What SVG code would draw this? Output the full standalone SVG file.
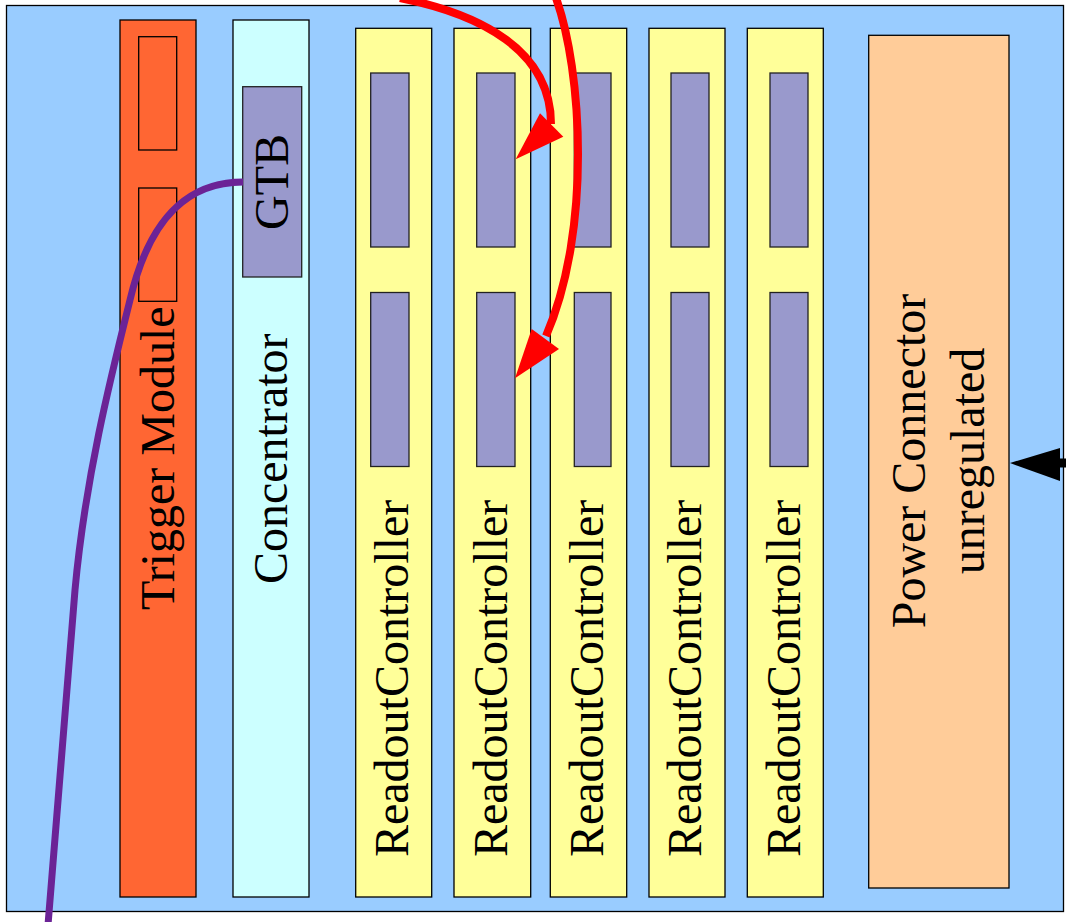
<svg xmlns="http://www.w3.org/2000/svg" width="1066" height="922" viewBox="0 0 1066 922">
<style>
.box{stroke:#000;stroke-width:1.3}
.lbl{font-family:"Liberation Serif","Times New Roman",serif;font-size:48px;fill:#000}
.chip{fill:#9999cc;stroke:#222;stroke-width:1.3}
.rc{fill:#ffff99}
.red{fill:none;stroke:#ff0000;stroke-width:8}
.redhead{fill:#ff0000}
</style>
<rect width="1066" height="922" fill="#ffffff"/>
<g id="board">
<rect class="box" x="6.5" y="5.5" width="1057" height="906" fill="#99ccff"/>
</g>
<g id="trigger">
<rect class="box" x="120" y="20" width="76" height="877" fill="#ff6633"/>
<rect class="box" x="138.7" y="36.7" width="38" height="113.3" fill="#ff6633"/>
<rect class="box" x="138.7" y="188" width="38" height="113.3" fill="#ff6633"/>
<text class="lbl" transform="translate(174,610) rotate(-90)">Trigger Module</text>
</g>
<g id="concentrator">
<rect class="box" x="233" y="20" width="76" height="877" fill="#ccffff"/>
<text class="lbl" transform="translate(287,584) rotate(-90)">Concentrator</text>
</g>
<g id="gtb">
<rect class="chip" x="242.7" y="86.7" width="59" height="190.3"/>
<text class="lbl" text-anchor="middle" transform="translate(288,182) rotate(-90)">GTB</text>
</g>
<g id="rc1">
<rect class="box rc" x="355.7" y="28.3" width="76" height="868.7"/>
<rect class="chip" x="370.7" y="73" width="38.3" height="174"/>
<rect class="chip" x="370.7" y="292.5" width="38.3" height="174"/>
<text class="lbl" transform="translate(408,857) rotate(-90)">ReadoutController</text>
</g>
<g id="rc2">
<rect class="box rc" x="454" y="28.3" width="76.7" height="868.7"/>
<rect class="chip" x="476.7" y="73" width="38.3" height="174"/>
<rect class="chip" x="476.7" y="292.5" width="38.3" height="174"/>
<text class="lbl" transform="translate(506.7,857) rotate(-90)">ReadoutController</text>
</g>
<g id="rc3">
<rect class="box rc" x="550.3" y="28.3" width="76.4" height="868.7"/>
<rect class="chip" x="574.3" y="73" width="36.7" height="174"/>
<rect class="chip" x="574.3" y="292.5" width="36.7" height="174"/>
<text class="lbl" transform="translate(603,857) rotate(-90)">ReadoutController</text>
</g>
<g id="rc4">
<rect class="box rc" x="649" y="28.3" width="76" height="868.7"/>
<rect class="chip" x="671" y="73" width="38" height="174"/>
<rect class="chip" x="671" y="292.5" width="38" height="174"/>
<text class="lbl" transform="translate(701.4,857) rotate(-90)">ReadoutController</text>
</g>
<g id="rc5">
<rect class="box rc" x="747.3" y="28.3" width="76" height="868.7"/>
<rect class="chip" x="770" y="73" width="38" height="174"/>
<rect class="chip" x="770" y="292.5" width="38" height="174"/>
<text class="lbl" transform="translate(799.7,857) rotate(-90)">ReadoutController</text>
</g>
<g id="power">
<rect class="box" x="868.7" y="35.3" width="140.3" height="852.7" fill="#ffcc99"/>
<text class="lbl" text-anchor="middle" transform="translate(925,461) rotate(-90)">Power Connector</text>
<text class="lbl" text-anchor="middle" transform="translate(984,461) rotate(-90)">unregulated</text>
</g>
<g id="connectors">
<path class="red" d="M400,-2 C480,14 551,50 551,124"/>
<polygon class="redhead" points="515.7,159.3 540,113.3 563.3,136.7"/>
<path class="red" d="M556,-2 C582,70 592,230 546,336"/>
<polygon class="redhead" points="515,378.3 531.7,329 559,349"/>
<path d="M243,182 C190,182 150,215 130,300 C110,380 85,480 75,590 L48,925" fill="none" stroke="#6b2396" stroke-width="7"/>
<line x1="1056" y1="463" x2="1070" y2="463" stroke="#000" stroke-width="9"/>
<polygon points="1010,463 1060,448 1060,481" fill="#000"/>
</g>
</svg>
